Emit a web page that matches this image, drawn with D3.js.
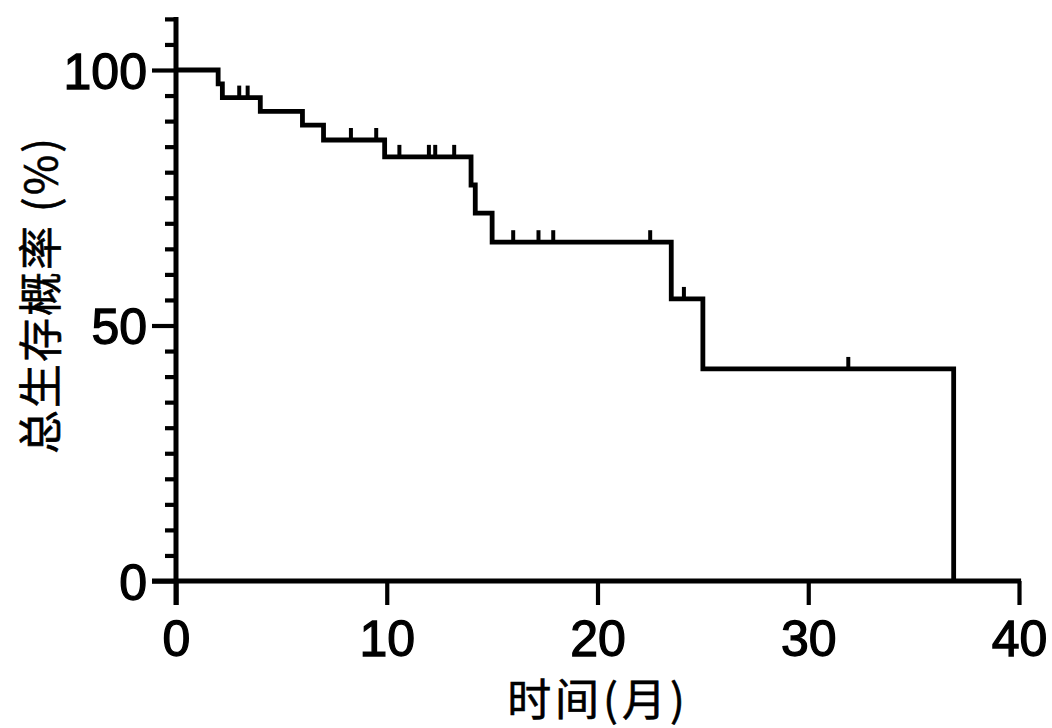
<!DOCTYPE html>
<html><head><meta charset="utf-8">
<script src="https://cdn.jsdelivr.net/npm/d3@7/dist/d3.min.js"></script>
<style>html,body{margin:0;padding:0;background:#fff;}svg{display:block;}</style>
</head><body>
<svg id="c" width="1052" height="728"></svg>
<script>
// Kaplan-Meier step data (months, % survival)
const stepTimes = [0, 2.0, 2.2, 4.0, 6.0, 7.0, 9.9, 14.0, 14.2, 15.0, 23.5, 25.0, 36.9];
const survival  = [100, 97.3, 94.6, 91.9, 89.2, 86.3, 83.0, 77.5, 72.0, 66.3, 55.2, 41.5, 0];
const censorTimes = [3.0, 3.4, 8.3, 9.5, 10.6, 12.0, 12.3, 13.2, 16.0, 17.2, 17.9, 22.5, 24.1, 31.9];
const xTicks = [0, 10, 20, 30, 40];
const yMajorTicks = [0, 50, 100];
const yMinorTicks = [5,10,15,20,25,30,35,40,45,55,60,65,70,75,80,85,90,95,105,110];
const xTitle = "时间(月)";
const yTitle = "总生存概率 (%)";

const svg = d3.select("#c");
const x = d3.scaleLinear().domain([0, 40]).range([176, 1019]);
const y = d3.scaleLinear().domain([0, 110]).range([581, 18.9]);
const axisW = 5, tickW = 4.2, curveW = 4.8;
const numFont = "Arial, 'Liberation Sans', sans-serif";
const cjkFont = "'Noto Sans CJK SC', sans-serif";

// Y axis
const yAxisMinor = d3.axisLeft(y).tickValues(yMinorTicks).tickSize(11).tickFormat("");
const gy = svg.append("g").attr("transform", `translate(${x(0)},0)`).call(yAxisMinor);
gy.select(".domain").remove();
const yAxisMajor = d3.axisLeft(y).tickValues(yMajorTicks).tickSize(24).tickPadding(5).tickFormat(d3.format("d"));
const gy2 = svg.append("g").attr("transform", `translate(${x(0)},0)`).call(yAxisMajor);
gy2.select(".domain").remove();
gy2.selectAll(".tick text").attr("font-family", numFont)
  .attr("font-size", 50).attr("fill", "#000").attr("stroke", "#000").attr("stroke-width", 1.3)
  .attr("dy", "0.36em");
svg.append("line").attr("x1", x(0)).attr("x2", x(0)).attr("y1", y(110) - 2).attr("y2", y(0) + 24)
  .attr("stroke", "#000").attr("stroke-width", axisW);

// X axis
const xAxis = d3.axisBottom(x).tickValues(xTicks).tickSize(24).tickPadding(15).tickFormat(d3.format("d"));
const gx = svg.append("g").attr("transform", `translate(0,${y(0)})`).call(xAxis);
gx.select(".domain").remove();
gx.selectAll(".tick text").attr("font-family", numFont)
  .attr("font-size", 50).attr("fill", "#000").attr("stroke", "#000").attr("stroke-width", 1.3);
svg.selectAll(".tick line").attr("stroke", "#000").attr("stroke-width", tickW);
svg.append("line").attr("x1", x(0) - 24).attr("x2", x(40) + tickW / 2).attr("y1", y(0)).attr("y2", y(0))
  .attr("stroke", "#000").attr("stroke-width", axisW);

// KM curve
const pts = stepTimes.map((t, i) => [t, survival[i]]);
const line = d3.line().x(d => x(d[0])).y(d => y(d[1])).curve(d3.curveStepAfter);
svg.append("path").attr("d", line(pts)).attr("fill", "none").attr("stroke", "#000")
  .attr("stroke-width", curveW).attr("stroke-linejoin", "miter").attr("stroke-linecap", "butt");

// Censor marks
function survAt(t) {
  let v = survival[0];
  for (let i = 0; i < stepTimes.length; i++) if (stepTimes[i] <= t) v = survival[i];
  return v;
}
svg.append("g").selectAll("line").data(censorTimes).join("line")
  .attr("x1", d => x(d)).attr("x2", d => x(d))
  .attr("y1", d => y(survAt(d))).attr("y2", d => y(survAt(d)) - 12)
  .attr("stroke", "#000").attr("stroke-width", 4);

// Titles
svg.append("text").attr("x", 598).attr("y", 716).attr("text-anchor", "middle")
  .attr("font-family", cjkFont).attr("font-size", 44).attr("letter-spacing", 4)
  .attr("fill", "#000").attr("stroke", "#000").attr("stroke-width", 0.6).text(xTitle);
svg.append("text").attr("transform", "translate(57,295) rotate(-90)").attr("text-anchor", "middle")
  .attr("font-family", cjkFont).attr("font-size", 44).attr("letter-spacing", 2)
  .attr("fill", "#000").attr("stroke", "#000").attr("stroke-width", 0.6).text(yTitle);
</script>
</body></html>
